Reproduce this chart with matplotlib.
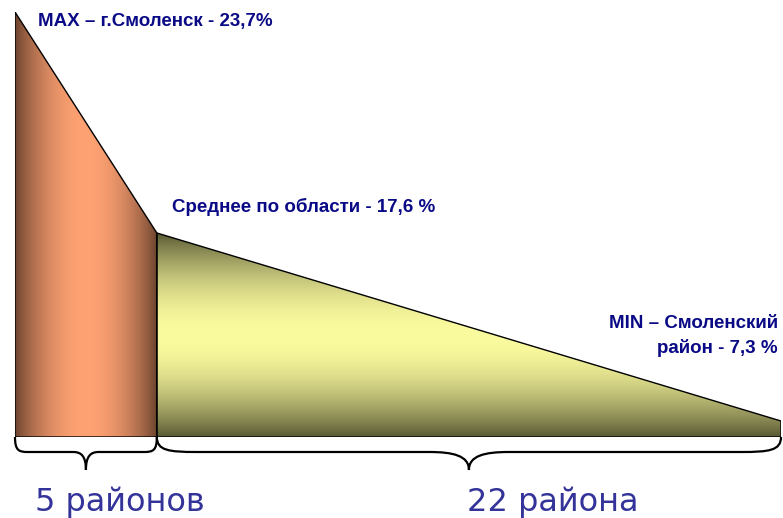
import numpy as np
import matplotlib
matplotlib.use('agg')
import matplotlib.pyplot as plt
import matplotlib.transforms as mtransforms
from matplotlib.patches import Polygon, PathPatch
from matplotlib.path import Path

# districts in each group and the share values at the group edges
group_sizes = [5, 22]
group_labels = ['5 районов', '22 района']
share_max = 23.7    # г.Смоленск
share_mean = 17.6   # среднее по области
share_min = 7.3     # Смоленский район

label_max = 'MAX – г.Смоленск - 23,7%'
label_mean = 'Среднее по области - 17,6 %'
label_min = 'MIN – Смоленский\nрайон - 7,3 %'

W, H = 783, 518
fig = plt.figure(figsize=(W / 100, H / 100), dpi=100)
ax = fig.add_axes([15 / W, (H - 437) / H, (781 - 15) / W, (437 - 12) / H])

# schematic (piecewise) vertical scale through the three levels
levels = [0.0, share_min, share_mean, share_max]
level_pos = [0.0, 16 / 425, 204 / 425, 1.0]

def fwd(v):
    return np.interp(v, levels, level_pos)

def inv(u):
    return np.interp(u, level_pos, levels)

ax.set_yscale('function', functions=(fwd, inv))
edges = np.concatenate([[0], np.cumsum(group_sizes)])
ax.set_xlim(edges[0], edges[-1])
ax.set_ylim(0, share_max)
ax.axis('off')


def gradient_poly(verts, dark, light, vertical=False, power=0.8):
    poly = Polygon(verts, closed=True, fc='none', ec='black', lw=1.0, zorder=3)
    ax.add_patch(poly)
    to_axes = ax.transData + ax.transAxes.inverted()
    pts = to_axes.transform(np.asarray(verts, dtype=float))
    x0, y0 = pts.min(axis=0)
    x1, y1 = pts.max(axis=0)
    t = np.linspace(0, 1, 256)
    w = np.sin(np.pi * t) ** power
    rgb = np.outer(1 - w, dark) + np.outer(w, light)
    img = rgb[:, None, :] if vertical else rgb[None, :, :]
    im = ax.imshow(img, extent=(x0, x1, y0, y1), transform=ax.transAxes,
                   origin='lower', aspect='auto', interpolation='bilinear', zorder=2)
    im.set_clip_path(poly)


# first group: from MAX down to the regional mean
gradient_poly([(edges[0], 0), (edges[0], share_max), (edges[1], share_mean), (edges[1], 0)],
              dark=np.array([105, 65, 45]) / 255, light=np.array([255, 162, 115]) / 255)
# second group: from the mean down to MIN
gradient_poly([(edges[1], 0), (edges[1], share_mean), (edges[2], share_min), (edges[2], 0)],
              dark=np.array([88, 88, 52]) / 255, light=np.array([250, 250, 158]) / 255,
              vertical=True, power=0.9)

# curly braces under the groups
blend = mtransforms.blended_transform_factory(ax.transData, ax.transAxes)
y_bar, y_tip = -15 / 425, -33 / 425
for (xa, xb), r in zip(zip(edges[:-1], edges[1:]), [0.45, 1.4]):
    xm = (xa + xb) / 2
    verts = [(xa, 0),
             (xa, y_bar * 0.9), (xa + 0.3 * r, y_bar), (xa + r, y_bar),
             (xm - r, y_bar),
             (xm - 0.4 * r, y_bar), (xm, y_bar + 0.2 * (y_tip - y_bar)), (xm, y_tip),
             (xm, y_bar + 0.2 * (y_tip - y_bar)), (xm + 0.4 * r, y_bar), (xm + r, y_bar),
             (xb - r, y_bar),
             (xb - 0.3 * r, y_bar), (xb, y_bar * 0.9), (xb, 0)]
    codes = ([Path.MOVETO] + [Path.CURVE4] * 3 + [Path.LINETO] + [Path.CURVE4] * 6
             + [Path.LINETO] + [Path.CURVE4] * 3)
    ax.add_patch(PathPatch(Path(verts, codes), fc='none', ec='black', lw=1.6,
                           transform=blend, clip_on=False, zorder=4))

# group captions
for lab, xl in zip(group_labels, [35, 467]):
    fig.text(xl / W, (H - 511) / H, lab, fontsize=23, color='#333399',
             family='DejaVu Sans', va='baseline', ha='left')

# value annotations
kw = dict(textcoords='offset points', fontsize=13.5, fontweight='bold', color='#0a0a86',
          family='Liberation Sans', va='baseline', annotation_clip=False)
ax.annotate(label_max, xy=(edges[0], share_max), xytext=(16.5, -10), ha='left', **kw)
ax.annotate(label_mean, xy=(edges[1], share_mean), xytext=(10.8, 15), ha='left', **kw)
ax.annotate(label_min, xy=(edges[2], share_min), xytext=(-2.2, 49), ha='right',
            multialignment='right', linespacing=1.52, **kw)

fig.savefig('out.png', dpi=100)
